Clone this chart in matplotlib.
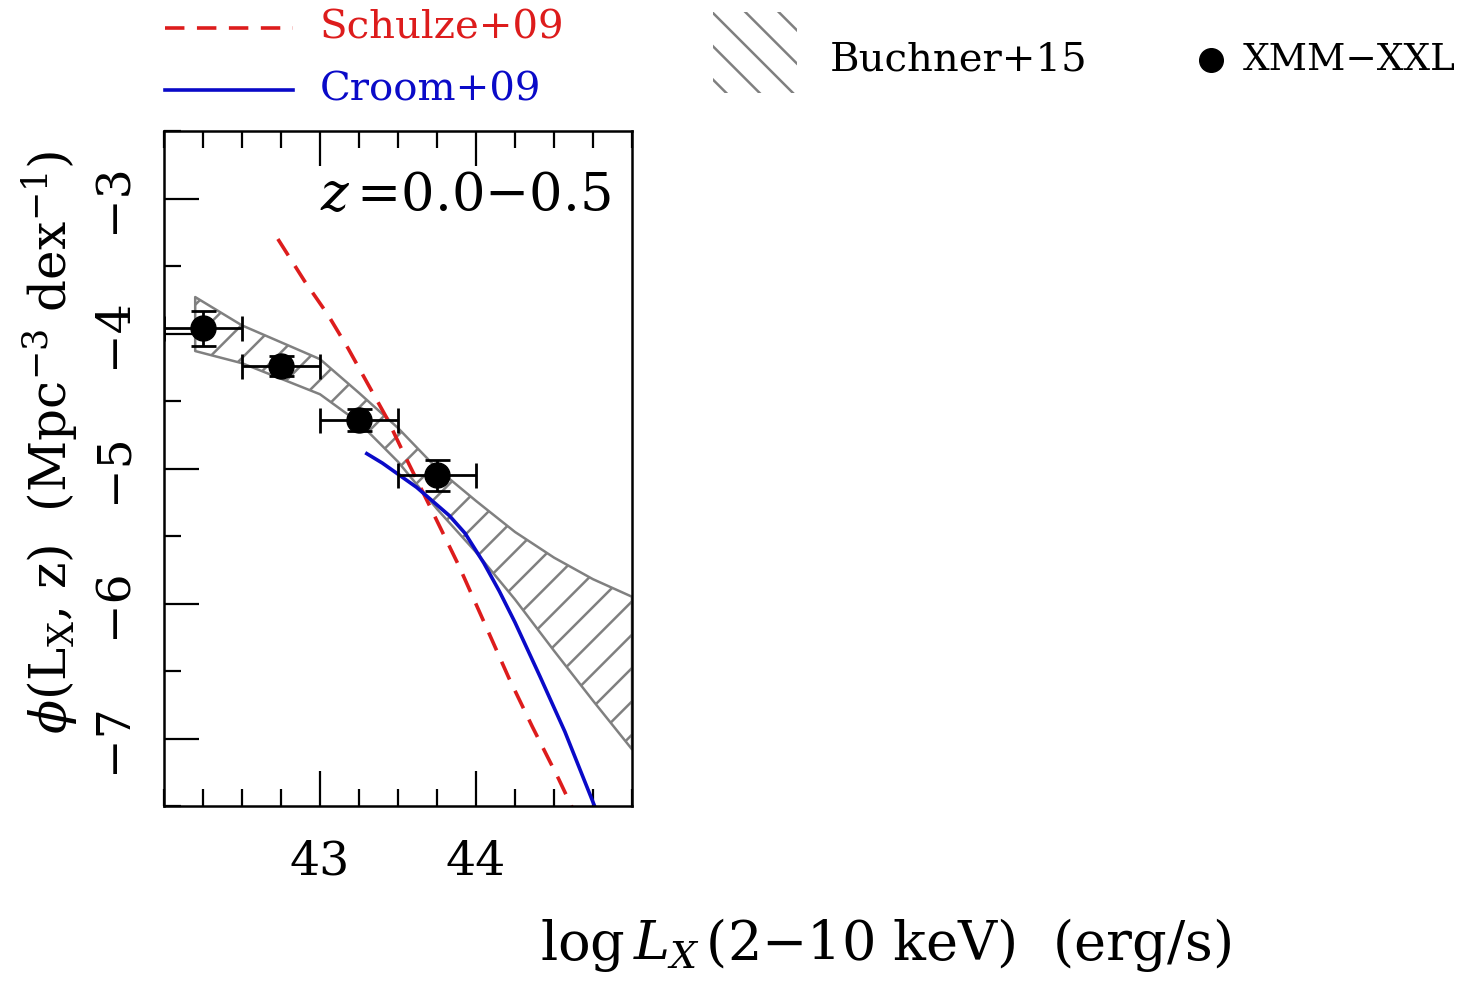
import numpy as np
import matplotlib.pyplot as plt
from matplotlib.lines import Line2D
from matplotlib.patches import Rectangle
from matplotlib.ticker import MultipleLocator

plt.rcParams['font.family'] = ['DejaVu Serif']
plt.rcParams['mathtext.fontset'] = 'dejavuserif'
plt.rcParams['hatch.linewidth'] = 1.8
plt.rcParams['lines.scale_dashes'] = False

# XMM-XXL binned luminosity function
xxl_lx = [42.25, 42.75, 43.25, 43.75]
xxl_phi = [-3.96, -4.24, -4.64, -5.05]
xxl_xerr = [0.25, 0.25, 0.25, 0.25]
xxl_yerr = [0.13, 0.075, 0.08, 0.115]

# Schulze+09
sch_lx = [42.73, 42.90, 43.05, 43.18, 43.30, 43.43, 43.55, 43.70, 43.89,
          44.06, 44.21, 44.36, 44.53, 44.62]
sch_phi = [-3.30, -3.61, -3.86, -4.11, -4.36, -4.63, -4.92, -5.27, -5.72,
           -6.16, -6.55, -6.91, -7.30, -7.52]

# Croom+09
cro_lx = [43.30, 43.40, 43.51, 43.62, 43.72, 43.83, 43.93, 44.05, 44.15,
          44.25, 44.41, 44.57, 44.76]
cro_phi = [-4.89, -4.96, -5.05, -5.14, -5.24, -5.35, -5.48, -5.70, -5.91,
           -6.14, -6.54, -6.95, -7.50]

# Buchner+15 band
buc_lx = [42.2, 42.5, 43.0, 43.25, 43.5, 43.75, 44.0, 44.25, 44.5, 44.75, 45.0]
buc_hi = [-3.73, -3.94, -4.19, -4.44, -4.70, -5.00, -5.24, -5.47, -5.66, -5.82, -5.95]
buc_lo = [-4.13, -4.22, -4.45, -4.66, -4.95, -5.30, -5.62, -5.97, -6.35, -6.72, -7.08]

W, H = 1463, 983
fig = plt.figure(figsize=(W / 100, H / 100), dpi=100)
ax = fig.add_axes([164 / W, 1 - 806 / H, (632 - 164) / W, (806 - 131) / H])

ax.fill_between(buc_lx, buc_lo, buc_hi, facecolor='none', edgecolor='#808080',
                hatch='/', linewidth=1.8, zorder=1)
ax.plot(sch_lx, sch_phi, color='#dd1c1c', lw=2.6, dashes=(14, 9), zorder=2)
ax.plot(cro_lx, cro_phi, color='#0a0ac8', lw=2.6, zorder=2)
ax.errorbar(xxl_lx, xxl_phi, xerr=xxl_xerr, yerr=xxl_yerr, fmt='o', color='k',
            ms=18, elinewidth=2.0, capsize=9, capthick=2.0, zorder=3)

ax.set_xlim(42, 45)
ax.set_ylim(-7.5, -2.5)
ax.set_xticks([43, 44])
ax.xaxis.set_minor_locator(MultipleLocator(0.25))
ax.set_yticks([-3, -4, -5, -6, -7])
ax.yaxis.set_minor_locator(MultipleLocator(0.5))
ax.tick_params(which='both', direction='in', top=True, right=False, width=1.6,
               labelsize=34)
ax.tick_params(which='major', length=25)
ax.tick_params(which='minor', length=12)
ax.tick_params(axis='x', pad=24)
ax.tick_params(axis='y', pad=20)
for lab in ax.get_yticklabels():
    lab.set_rotation(90)
    lab.set_va('center')
for s in ax.spines.values():
    s.set_linewidth(1.8)

ax.text(0.955, 0.905, r'$z\,$=0.0$-$0.5', transform=ax.transAxes, ha='right',
        va='center', fontsize=38)

fig.text(885 / W, 1 - 945 / H, r'log$\,L_X\,$(2$-$10 keV)  (erg/s)',
         ha='center', va='center', fontsize=39)
fig.text(50 / W, 1 - 442 / H, r'$\phi$(L$_{\rm X}$, z)  (Mpc$^{-3}$ dex$^{-1}$)',
         ha='center', va='center', rotation=90, fontsize=36)

# legend drawn by hand in figure coordinates
fig.add_artist(Line2D([165 / W, 293 / W], [1 - 28 / H, 1 - 28 / H], color='#dd1c1c',
                      lw=2.6, dashes=(14, 9), transform=fig.transFigure))
fig.text(320 / W, 1 - 28 / H, 'Schulze+09', color='#dd1c1c', fontsize=29,
         ha='left', va='center')
fig.add_artist(Line2D([165 / W, 293 / W], [1 - 90 / H, 1 - 90 / H], color='#0a0ac8',
                      lw=2.6, transform=fig.transFigure))
fig.text(320 / W, 1 - 90 / H, 'Croom+09', color='#0a0ac8', fontsize=29,
         ha='left', va='center')
fig.add_artist(Rectangle((713 / W, 1 - 93 / H), 84 / W, 81 / H, facecolor='none',
                         edgecolor='#808080', lw=0, hatch='\\',
                         transform=fig.transFigure))
fig.text(830 / W, 1 - 60 / H, 'Buchner+15', color='k', fontsize=29,
         ha='left', va='center')
fig.add_artist(Line2D([1211 / W], [1 - 60 / H], marker='o', ms=17, color='k',
                      transform=fig.transFigure))
fig.text(1243 / W, 1 - 60 / H, 'XMM\u2212XXL', color='k', fontsize=27,
         ha='left', va='center')

fig.savefig('out.png', dpi=100)
